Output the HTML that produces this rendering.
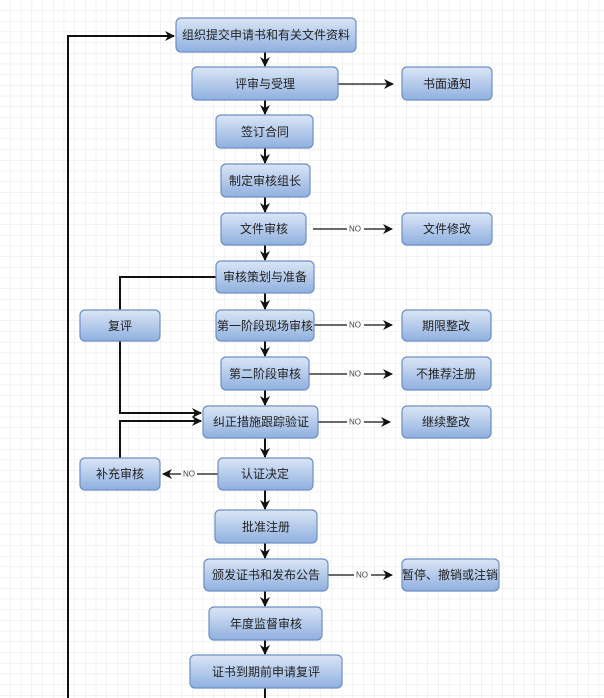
<!DOCTYPE html>
<html><head><meta charset="utf-8"><style>
html,body{margin:0;padding:0;background:#fff;}
svg{display:block;}
text{font-family:"Liberation Sans","Noto Sans CJK SC",sans-serif;font-size:12px;fill:#222;text-anchor:middle;dominant-baseline:central;}
.no{font-size:8px;fill:#444;}
</style></head><body>
<svg width="604" height="698" xmlns="http://www.w3.org/2000/svg">
<defs>
<pattern id="g" width="10.7" height="10.7" patternUnits="userSpaceOnUse"><path d="M10.7 0V10.7H0" fill="none" stroke="#e6e6e6" stroke-width="1"/></pattern>
<linearGradient id="bf" x1="0" y1="0" x2="0" y2="1"><stop offset="0" stop-color="#dbe6f6"/><stop offset="1" stop-color="#8fb0df"/></linearGradient>
<marker id="a" markerWidth="10" markerHeight="10" refX="9" refY="5" orient="auto" markerUnits="userSpaceOnUse"><path d="M0,0 L10,5 L0,10 L3,5 z" fill="#111"/></marker>
</defs>
<rect width="604" height="698" fill="url(#g)"/>
<g stroke="#111" stroke-width="2" fill="none">
<path d="M68 698V36H174" marker-end="url(#a)"/>
<path d="M265 52V66" marker-end="url(#a)"/>
<path d="M265 100V114" marker-end="url(#a)"/>
<path d="M265 148V163" marker-end="url(#a)"/>
<path d="M265 197V212" marker-end="url(#a)"/>
<path d="M265 245V260" marker-end="url(#a)"/>
<path d="M265 293V309" marker-end="url(#a)"/>
<path d="M265 341V356" marker-end="url(#a)"/>
<path d="M265 390V405" marker-end="url(#a)"/>
<path d="M265 438V457" marker-end="url(#a)"/>
<path d="M265 490V509" marker-end="url(#a)"/>
<path d="M265 543V558" marker-end="url(#a)"/>
<path d="M265 591V606" marker-end="url(#a)"/>
<path d="M265 640V654" marker-end="url(#a)"/>
<path d="M265 688V698"/>
<path d="M216 277H120V310"/>
<path d="M120 341V413H201" marker-end="url(#a)"/>
<path d="M120 458V421H201" marker-end="url(#a)"/>
</g>
<g stroke="#111" stroke-width="1.3" fill="none">
<path d="M338 84H393" marker-end="url(#a)"/>
<path d="M313 229H347M364 229H392" marker-end="url(#a)"/>
<path d="M314 325H347M364 325H392" marker-end="url(#a)"/>
<path d="M309 374H347M364 374H392" marker-end="url(#a)"/>
<path d="M318 422H347M364 422H390" marker-end="url(#a)"/>
<path d="M328 575H354M371 575H392" marker-end="url(#a)"/>
<path d="M218 474H197M181 474H163" marker-end="url(#a)"/>
</g>
<g class="no"><text x="355" y="229" class="no">NO</text><text x="355" y="325" class="no">NO</text><text x="355" y="374" class="no">NO</text><text x="355" y="422" class="no">NO</text><text x="362" y="575" class="no">NO</text><text x="189" y="474" class="no">NO</text></g>
<g stroke="#6d8fc4" stroke-width="1.2" fill="url(#bf)">
<rect x="176" y="18" width="180" height="34" rx="5"/>
<rect x="192" y="67" width="146" height="33" rx="5"/>
<rect x="216" y="115" width="97" height="33" rx="5"/>
<rect x="221" y="164" width="89" height="33" rx="5"/>
<rect x="221" y="213" width="85" height="32" rx="5"/>
<rect x="216" y="261" width="98" height="32" rx="5"/>
<rect x="216" y="310" width="98" height="31" rx="5"/>
<rect x="221" y="357" width="88" height="33" rx="5"/>
<rect x="203" y="406" width="115" height="32" rx="5"/>
<rect x="218" y="458" width="95" height="32" rx="5"/>
<rect x="215" y="510" width="102" height="33" rx="5"/>
<rect x="204" y="559" width="124" height="32" rx="5"/>
<rect x="209" y="607" width="113" height="33" rx="5"/>
<rect x="190" y="655" width="152" height="33" rx="5"/>
<rect x="402" y="67" width="90" height="33" rx="5"/>
<rect x="402" y="213" width="90" height="32" rx="5"/>
<rect x="402" y="310" width="89" height="31" rx="5"/>
<rect x="402" y="357" width="89" height="33" rx="5"/>
<rect x="402" y="406" width="89" height="32" rx="5"/>
<rect x="402" y="559" width="97" height="32" rx="5"/>
<rect x="80" y="310" width="80" height="31" rx="5"/>
<rect x="80" y="458" width="80" height="32" rx="5"/>
</g>
<text x="266" y="35">组织提交申请书和有关文件资料</text>
<text x="265" y="84">评审与受理</text>
<text x="265" y="132">签订合同</text>
<text x="265" y="181">制定审核组长</text>
<text x="264" y="229">文件审核</text>
<text x="265" y="277">审核策划与准备</text>
<text x="265" y="326">第一阶段现场审核</text>
<text x="265" y="374">第二阶段审核</text>
<text x="261" y="422">纠正措施跟踪验证</text>
<text x="265" y="474">认证决定</text>
<text x="266" y="527">批准注册</text>
<text x="266" y="575">颁发证书和发布公告</text>
<text x="266" y="624">年度监督审核</text>
<text x="266" y="672">证书到期前申请复评</text>
<text x="447" y="84">书面通知</text>
<text x="447" y="229">文件修改</text>
<text x="446" y="326">期限整改</text>
<text x="446" y="374">不推荐注册</text>
<text x="446" y="422">继续整改</text>
<text x="450" y="575">暂停、撤销或注销</text>
<text x="120" y="326">复评</text>
<text x="120" y="474">补充审核</text>
</svg>
</body></html>
